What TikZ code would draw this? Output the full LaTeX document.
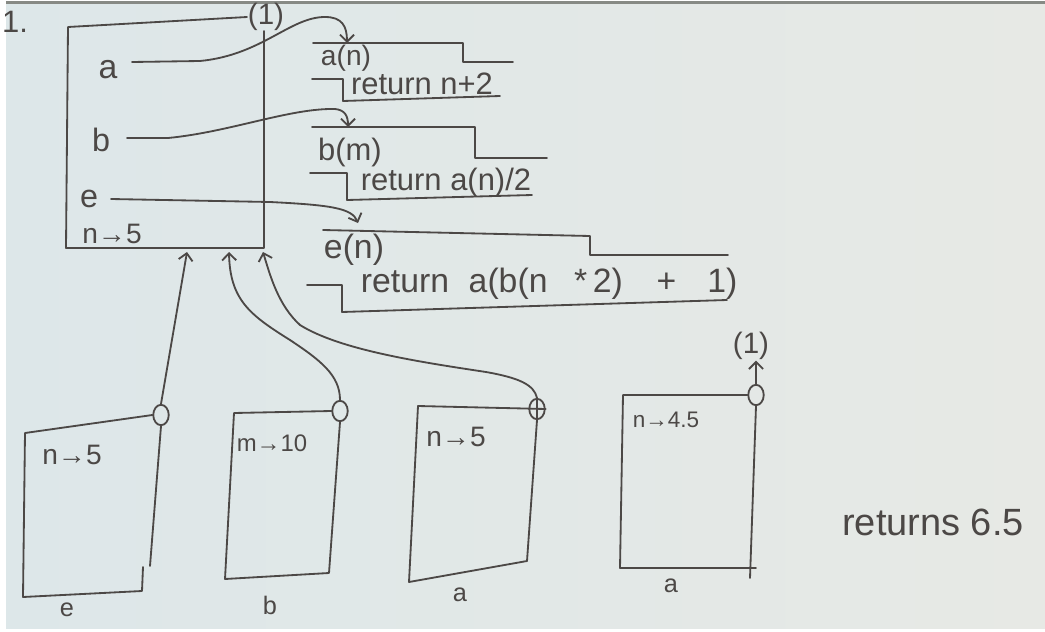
\documentclass[tikz,border=0pt]{standalone}
\usepackage{fontspec}
\setmainfont{Liberation Sans}
\usetikzlibrary{arrows.meta,shapes.geometric}
\definecolor{pen}{HTML}{4C4846}
\definecolor{paperleft}{HTML}{DDE7E9}
\definecolor{paperright}{HTML}{E7E9E5}
\definecolor{paperedge}{HTML}{878A85}

\begin{document}
\begin{tikzpicture}[x=0.025cm, y=-0.025cm, color=pen, line width=1.3pt,
  line cap=round, line join=round,
  every node/.style={inner sep=0pt},
  hand/.style={font=\fontsize{#1}{#1}\selectfont},
  envdot/.style={ellipse, draw, minimum width=11pt, minimum height=14.5pt},
  ptr/.style={-{Straight Barb[length=5pt, width=10pt]}},
]

% paper
\fill[white] (0,0) rectangle (1045,631);
\shade[left color=paperleft, right color=paperright] (6,1) rectangle (1045,628);
\fill[paperedge] (6,1) rectangle (1045,4);
\useasboundingbox (0,0) rectangle (1045,631);

% global frame
\node[hand=22] (qnum) at (15,22) {1.};
\node[hand=21] (gp) at (266,17) {(1)};
\draw (gp.west) -- (68,27) -- (66,248) -- (264,248) -- (264,31);
\node[hand=24] (va) at (108,70) {a};
\node[hand=23] (vb) at (101,140) {b};
\node[hand=23] (ve) at (89,199) {e};
\node[hand=20] (vn) at (112,234) {n→5};

% function a(n)
\draw (313,43) -- (463,43) -- (463,62) -- (513,62);
\node[hand=20] (fna) at (346,58) {a(n)};
\draw (312,79) -- (343,79) -- (343,101) -- (500,96);
\node[hand=22] (rna) at (422,84) {return n+2};
\coordinate (fa) at (347,43);

% function b(m)
\draw (312,127) -- (475,127) -- (475,158) -- (547,158);
\node[hand=22] (fnb) at (350,152) {b(m)};
\draw (310,173) -- (347,173) -- (347,200) -- (532,195);
\node[hand=22] (rnb) at (446,182) {return a(n)/2};
\coordinate (fb) at (348,127);

% function e(n)
\draw (323,230) -- (590,236) -- (590,255) -- (728,255);
\node[hand=24] (fne) at (354,250) {e(n)};
\draw (307,285) -- (342,285) -- (342,312) -- (727,300);
\node[hand=24, anchor=west] (rne) at (360,284)
  {return\hspace{14pt}a(b(n\hspace{19pt}*\hspace{4pt}2)\hspace{24pt}+\hspace{22pt}1)};
\coordinate (fe) at (358,223);

% bindings
\coordinate (sa) at (132,62);
\coordinate (sb) at (127,138);
\coordinate (se) at (111,199);
\draw[ptr] (sa) -- (200,61) .. controls (262,55) and (290,17) .. (325,17)
  .. controls (342,17) and (347,26) .. (fa);
\draw[ptr] (sb) -- (168,138) .. controls (230,132) and (290,108) .. (335,109)
  .. controls (345,110) and (348,116) .. (fb);
\draw[ptr] (se) -- (270,202) .. controls (330,205) and (352,208) .. (fe);

% parent arrow ends on the global frame
\coordinate (pe) at (187,252);
\coordinate (pb) at (229,252);
\coordinate (pa) at (263,252);

% frame e
\node[envdot] (ce) at (161,415) {};
\draw (ce.west) -- (25,433) -- (23,597) -- (142,591) -- (143,567);
\draw (ce.south) -- (150,566);
\node[hand=20] (ne) at (72,455) {n→5};
\node[hand=18] (le) at (67,610) {e};
\draw[ptr] (ce.north) -- (pe);

% frame b
\node[envdot] (cb) at (340,411) {};
\draw (cb.west) -- (234,413) -- (225,579) -- (329,573) -- (cb.south);
\node[hand=17] (nb) at (272,443) {m→10};
\node[hand=18] (lb) at (270,605) {b};
\draw[ptr] (cb.north) .. controls (340,375) and (320,360) .. (290,340)
  .. controls (250,315) and (230,300) .. (pb);

% frame a, first call
\node[envdot] (ca1) at (537,409) {};
\draw (418,406) -- (ca1.east);
\draw (ca1.north) -- (ca1.south) -- (527,561) -- (409,582) -- (418,406);
\node[hand=20] (na1) at (456,437) {n→5};
\node[hand=18] (la1) at (460,595) {a};
\draw[ptr] (ca1.north) .. controls (534,385) and (520,378) .. (486,372)
  .. controls (420,362) and (340,350) .. (300,325)
  .. controls (278,305) and (270,275) .. (pa);

% frame a, second call
\node[envdot] (ca2) at (756,395) {};
\draw (ca2.west) -- (623,395) -- (620,568) -- (756,568);
\draw (ca2.south) -- (750,578);
\node[hand=16] (na2) at (666,420) {n→4.5};
\node[hand=18] (la2) at (671,586) {a};
\node[hand=21] (gp2) at (751,346) {(1)};
\draw[ptr] (ca2.north) -- (ca2.north |- gp2.south);

% result
\node[hand=27] (res) at (933,522) {returns 6.5};

\end{tikzpicture}
\end{document}
